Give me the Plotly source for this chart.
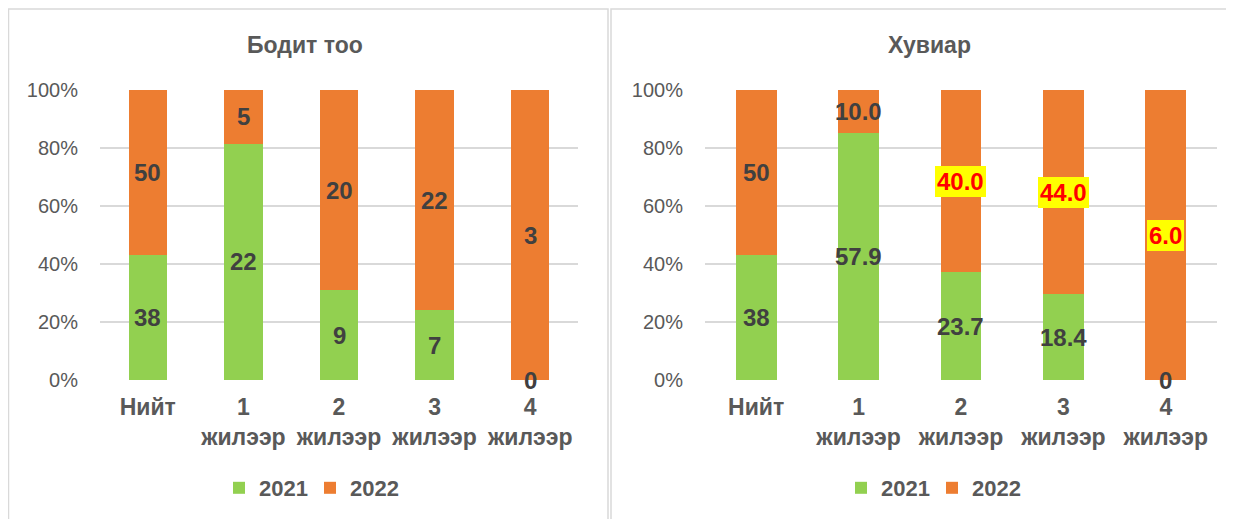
import plotly.graph_objects as go

# ---- data ----
categories = ["Нийт", "1<br>жилээр", "2<br>жилээр", "3<br>жилээр", "4<br>жилээр"]
years = ["2021", "2022"]
count_2021 = [38, 22, 9, 7, 0]
count_2022 = [50, 5, 20, 22, 3]
pct_2021 = [38, 57.9, 23.7, 18.4, 0]
pct_2022 = [50, 10.0, 40.0, 44.0, 6.0]
pct_2021_labels = ["38", "57.9", "23.7", "18.4", "0"]
pct_2022_labels = ["50", "10.0", "40.0", "44.0", "6.0"]
pct_2022_highlight = [False, False, True, True, True]
titles = ["Бодит тоо", "Хувиар"]
y_ticks = [0, 20, 40, 60, 80, 100]
y_tick_text = ["0%", "20%", "40%", "60%", "80%", "100%"]

GREEN = "#92d050"
ORANGE = "#ed7d31"
FONT = "Liberation Sans, Arial, sans-serif"
OFF = 8                      # page body margin
W, H = 1234 - OFF, 519 - OFF


def px(x):
    return (x - OFF) / W


def py(y):
    return 1 - (y - OFF) / H


fig = go.Figure()

panels = [
    dict(a=count_2021, b=count_2022, la=[str(v) for v in count_2021], lb=[str(v) for v in count_2022],
         hb=[False] * 5, xa="x", ya="y", legend="legend"),
    dict(a=pct_2021, b=pct_2022, la=pct_2021_labels, lb=pct_2022_labels,
         hb=pct_2022_highlight, xa="x2", ya="y2", legend="legend2"),
]

LBL = dict(family=FONT, size=24, color="#404040")
annotations = []
for p in panels:
    fig.add_trace(go.Bar(x=categories, y=p["a"], name=years[0], marker=dict(color=GREEN, line=dict(width=0)),
                         xaxis=p["xa"], yaxis=p["ya"], legend=p["legend"], hoverinfo="skip"))
    fig.add_trace(go.Bar(x=categories, y=p["b"], name=years[1], marker=dict(color=ORANGE, line=dict(width=0)),
                         xaxis=p["xa"], yaxis=p["ya"], legend=p["legend"], hoverinfo="skip"))
    for i, c in enumerate(categories):
        tot = p["a"][i] + p["b"][i]
        sa = p["a"][i] / tot * 100
        sb = p["b"][i] / tot * 100
        annotations.append(dict(x=c, y=sa / 2, xref=p["xa"], yref=p["ya"], text="<b>%s</b>" % p["la"][i],
                                showarrow=False, font=LBL))
        if p["hb"][i]:
            annotations.append(dict(x=c, y=sa + sb / 2, xref=p["xa"], yref=p["ya"], text="<b>%s</b>" % p["lb"][i],
                                    showarrow=False, bgcolor="#ffff00", borderpad=2, borderwidth=0,
                                    font=dict(family=FONT, size=24, color="#ff0000")))
        else:
            annotations.append(dict(x=c, y=sa + sb / 2, xref=p["xa"], yref=p["ya"], text="<b>%s</b>" % p["lb"][i],
                                    showarrow=False, font=LBL))

for t, xc in zip(titles, [305, 929]):
    annotations.append(dict(x=px(xc), y=py(45), xref="paper", yref="paper", text="<b>%s</b>" % t,
                            xanchor="center", yanchor="middle", showarrow=False,
                            font=dict(family=FONT, size=23, color="#595959")))

xcommon = dict(showgrid=False, showline=False, zeroline=False, ticks="", ticklabelstandoff=11,
               tickfont=dict(family=FONT, size=23, color="#595959", weight="bold"), fixedrange=True)
ycommon = dict(range=[0, 100], tickmode="array", tickvals=y_ticks, ticktext=y_tick_text,
               showgrid=True, gridcolor="#d9d9d9", gridwidth=1.5, zeroline=False, showline=False,
               ticks="", ticklabelstandoff=21,
               tickfont=dict(family=FONT, size=20, color="#595959"),
               domain=[py(380), py(90)], fixedrange=True)

legcommon = dict(orientation="h", yanchor="middle", y=py(488), xanchor="center", traceorder="normal",
                 font=dict(family=FONT, size=22, color="#595959", weight="bold"),
                 bgcolor="rgba(0,0,0,0)", itemclick=False, itemdoubleclick=False, itemwidth=30,
                 entrywidth=46, entrywidthmode="pixels")

fig.update_layout(
    width=W, height=H,
    margin=dict(l=0, r=0, t=0, b=0, pad=0, autoexpand=False),
    paper_bgcolor="white", plot_bgcolor="white",
    barmode="stack", barnorm="percent", bargap=0.6,
    showlegend=True,
    xaxis=dict(domain=[px(100), px(578)], anchor="y", **xcommon),
    yaxis=dict(anchor="x", **ycommon),
    xaxis2=dict(domain=[px(705), px(1217)], anchor="y2", **xcommon),
    yaxis2=dict(anchor="x2", **ycommon),
    legend=dict(x=px(310), **legcommon),
    legend2=dict(x=px(932), **legcommon),
    annotations=annotations,
    shapes=[
        dict(type="rect", xref="paper", yref="paper", x0=px(8.5), x1=px(608), y0=-0.1, y1=py(9),
             line=dict(color="#d9d9d9", width=1.5), layer="below"),
        dict(type="rect", xref="paper", yref="paper", x0=px(611), x1=1.1, y0=-0.1, y1=py(9),
             line=dict(color="#d9d9d9", width=1.5), layer="below"),
    ],
)

fig.write_html("out.html")
